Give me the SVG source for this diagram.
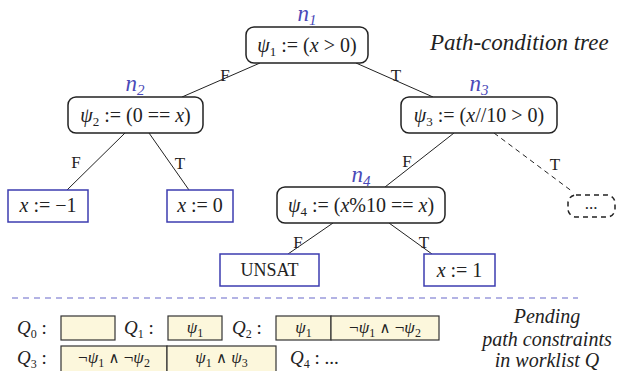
<svg xmlns="http://www.w3.org/2000/svg" width="617" height="371" viewBox="0 0 617 371">
  <style>
    text { font-family: "Liberation Serif", "DejaVu Serif", serif; fill: #222; }
    .m { font-size: 20px; text-anchor: middle; }
    .w { font-size: 17px; text-anchor: middle; }
    .i { font-style: italic; }
    .s { font-size: 13px; }
    .w .s, .ql .s { font-size: 12px; }
    .op { font-size: 15px; }
    .tag { font-size: 23px; font-style: italic; fill: #4a4ab8; text-anchor: middle; }
    .tag .s { font-size: 15px; fill: #4a4ab8; }
    .cond { fill: #fff; stroke: #222; stroke-width: 1.5; }
    .leaf { fill: #fff; stroke: #3c3cb0; stroke-width: 1.5; }
    .edge { stroke: #222; stroke-width: 1; fill: none; }
    .dash { stroke-dasharray: 5 4; }
    .el { font-size: 17px; text-anchor: middle; }
    .q { fill: #fcf7dc; stroke: #333; stroke-width: 1.2; }
    .ql { font-size: 19px; }
    .note { font-size: 20px; font-style: italic; text-anchor: middle; }
  </style>

  <!-- tree connectors -->
  <g id="connectors">
    <line class="edge" x1="260" y1="63" x2="182" y2="97"/>
    <line class="edge" x1="356" y1="63" x2="433" y2="97"/>
    <line class="edge" x1="125" y1="133" x2="67" y2="190"/>
    <line class="edge" x1="149" y1="133" x2="189" y2="190"/>
    <line class="edge" x1="454" y1="133" x2="385" y2="187"/>
    <line class="edge dash" x1="494" y1="133" x2="573" y2="192"/>
    <line class="edge" x1="333" y1="223" x2="288" y2="254"/>
    <line class="edge" x1="389" y1="223" x2="432" y2="254"/>
    <text class="el" x="225" y="81">F</text>
    <text class="el" x="396" y="81">T</text>
    <text class="el" x="76" y="168">F</text>
    <text class="el" x="180" y="169">T</text>
    <text class="el" x="407" y="167">F</text>
    <text class="el" x="555" y="170">T</text>
    <text class="el" x="298" y="248">F</text>
    <text class="el" x="424" y="248">T</text>
  </g>

  <g id="n1">
    <rect class="cond" x="246" y="27" width="122" height="36" rx="8"/>
    <text class="tag" x="307" y="21">n<tspan class="s" dy="4">1</tspan></text>
    <text class="m" x="307" y="52"><tspan class="i">ψ</tspan><tspan class="s" dy="4">1</tspan><tspan dy="-4"> := (</tspan><tspan class="i">x</tspan> &gt; 0)</text>
  </g>

  <g id="n2">
    <rect class="cond" x="68" y="97" width="135" height="36" rx="8"/>
    <text class="tag" x="135" y="91">n<tspan class="s" dy="4">2</tspan></text>
    <text class="m" x="135.5" y="122"><tspan class="i">ψ</tspan><tspan class="s" dy="4">2</tspan><tspan dy="-4"> := (0 == </tspan><tspan class="i">x</tspan>)</text>
  </g>

  <g id="n3">
    <rect class="cond" x="401" y="97" width="156" height="36" rx="8"/>
    <text class="tag" x="479" y="91">n<tspan class="s" dy="4">3</tspan></text>
    <text class="m" x="479" y="122"><tspan class="i">ψ</tspan><tspan class="s" dy="4">3</tspan><tspan dy="-4"> := (</tspan><tspan class="i">x</tspan>//10 &gt; 0)</text>
  </g>

  <g id="n4">
    <rect class="cond" x="277" y="187" width="168" height="36" rx="8"/>
    <text class="tag" x="361" y="182">n<tspan class="s" dy="4">4</tspan></text>
    <text class="m" x="361" y="212"><tspan class="i">ψ</tspan><tspan class="s" dy="4">4</tspan><tspan dy="-4"> := (</tspan><tspan class="i">x</tspan>%10 == <tspan class="i">x</tspan>)</text>
  </g>

  <g id="leaf-neg1">
    <rect class="leaf" x="8" y="190" width="80" height="32"/>
    <text class="m" x="48" y="212"><tspan class="i">x</tspan> := −1</text>
  </g>

  <g id="leaf-zero">
    <rect class="leaf" x="167" y="190" width="66" height="32"/>
    <text class="m" x="200" y="212"><tspan class="i">x</tspan> := 0</text>
  </g>

  <g id="leaf-unsat">
    <rect class="leaf" x="220" y="254" width="99" height="32"/>
    <text class="w" x="269.5" y="276" style="font-size:18px">UNSAT</text>
  </g>

  <g id="leaf-one">
    <rect class="leaf" x="424" y="254" width="71" height="32"/>
    <text class="m" x="459.5" y="277"><tspan class="i">x</tspan> := 1</text>
  </g>

  <g id="more">
    <rect class="cond dash" x="568" y="195" width="47" height="22" rx="8"/>
    <text class="w" x="591" y="209">...</text>
  </g>

  <text x="430" y="50" style="font-size:23px;font-style:italic">Path-condition tree</text>

  <!-- separator between tree and worklist -->
  <line x1="12" y1="298" x2="578" y2="298" stroke="#9b9bdc" stroke-width="1.5" stroke-dasharray="6 5"/>

  <!-- worklist snapshots -->
  <g id="worklist">
    <text class="ql" x="17" y="334"><tspan class="i">Q</tspan><tspan class="s" dy="4">0</tspan><tspan dy="-4"> :</tspan></text>
    <rect class="q" x="61" y="316" width="54" height="24"/>

    <text class="ql" x="124" y="334"><tspan class="i">Q</tspan><tspan class="s" dy="4">1</tspan><tspan dy="-4"> :</tspan></text>
    <rect class="q" x="168" y="316" width="54" height="24"/>
    <text class="w" x="195" y="333"><tspan class="i">ψ</tspan><tspan class="s" dy="4">1</tspan></text>

    <text class="ql" x="232" y="334"><tspan class="i">Q</tspan><tspan class="s" dy="4">2</tspan><tspan dy="-4"> :</tspan></text>
    <rect class="q" x="276" y="316" width="55" height="24"/>
    <rect class="q" x="331" y="316" width="108" height="24"/>
    <text class="w" x="303.5" y="333"><tspan class="i">ψ</tspan><tspan class="s" dy="4">1</tspan></text>
    <text class="w" x="385" y="333">¬<tspan class="i">ψ</tspan><tspan class="s" dy="4">1</tspan><tspan dy="-4"> </tspan><tspan class="op">∧</tspan> ¬<tspan class="i">ψ</tspan><tspan class="s" dy="4">2</tspan></text>

    <text class="ql" x="17" y="364"><tspan class="i">Q</tspan><tspan class="s" dy="4">3</tspan><tspan dy="-4"> :</tspan></text>
    <rect class="q" x="61" y="346" width="106" height="30"/>
    <rect class="q" x="167" y="346" width="109" height="30"/>
    <text class="w" x="114" y="363">¬<tspan class="i">ψ</tspan><tspan class="s" dy="4">1</tspan><tspan dy="-4"> </tspan><tspan class="op">∧</tspan> ¬<tspan class="i">ψ</tspan><tspan class="s" dy="4">2</tspan></text>
    <text class="w" x="221.5" y="363"><tspan class="i">ψ</tspan><tspan class="s" dy="4">1</tspan><tspan dy="-4"> </tspan><tspan class="op">∧</tspan> <tspan class="i">ψ</tspan><tspan class="s" dy="4">3</tspan></text>

    <text class="ql" x="290" y="364"><tspan class="i">Q</tspan><tspan class="s" dy="4">4</tspan><tspan dy="-4"> : ...</tspan></text>
  </g>

  <text class="note" x="547" y="323">Pending</text>
  <text class="note" x="547" y="346">path constraints</text>
  <text class="note" x="547" y="367">in worklist Q</text>
</svg>
